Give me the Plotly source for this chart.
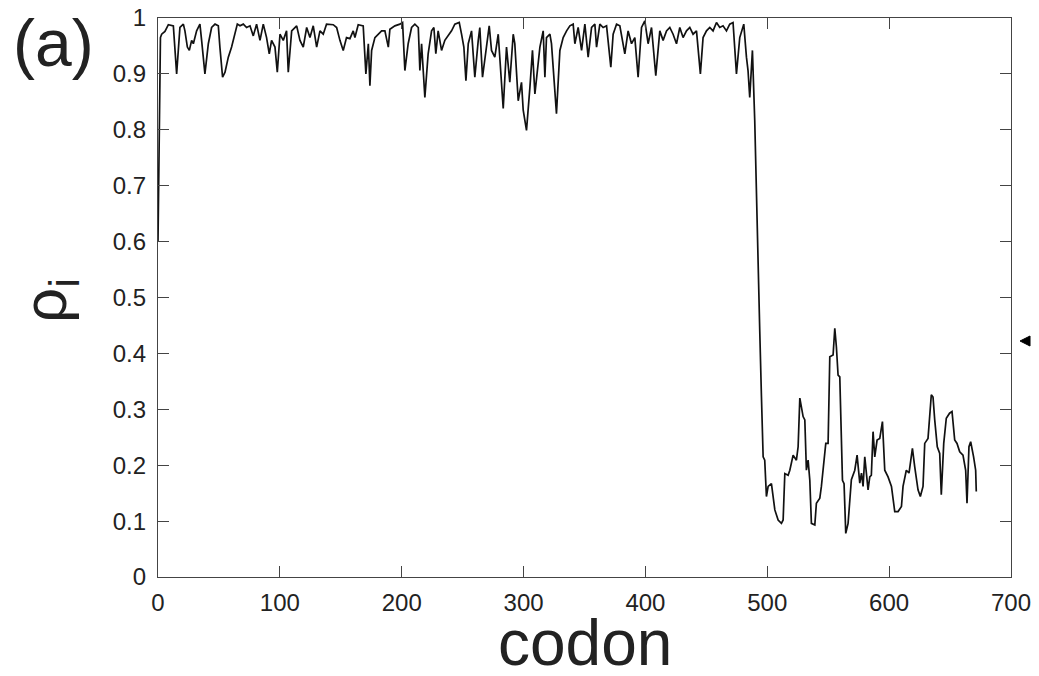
import plotly.graph_objects as go

codon = [0, 2, 3.0, 5.7, 8.5, 12.6, 15.3, 18.0, 20.8, 22.1, 24.1, 25.7, 27.6, 29.0, 31.7, 34.4, 35.8, 38.5, 41.3, 44.0, 46.8, 49.5, 50.8, 53.0, 55.0, 57.7, 60.4, 63.2, 65.1, 67.3, 70.0, 72.7, 75.5, 78.2, 80.9, 83.7, 86.4, 89.1, 91.3, 93.2, 96.0, 97.9, 100.1, 102.8, 105.5, 106.9, 109.7, 113.8, 116.5, 119.2, 122.0, 124.7, 127.4, 130.2, 132.9, 135.6, 138.3, 143.8, 146.6, 149.3, 152.0, 154.7, 157.5,
         160.2, 161.6, 164.3, 168.4, 170.6, 172.6, 173.9, 175.3, 178.0, 180.8, 183.5, 186.2, 189.0, 190.3, 194.4, 198.5, 200.7, 202.6, 205.3, 208.1, 210.8, 213.6, 214.9, 216.3, 219.0, 221.7, 224.5, 226.4, 228.0, 229.9, 232.7, 235.4, 238.1, 240.9, 243.6, 247.2, 249.1, 251.0, 252.7, 254.6, 257.3, 260.0, 262.8, 264.1, 266.3, 269.6, 271.8, 273.7, 276.4, 279.2, 281.9, 283.3, 286.0, 288.7, 291.5, 292.8, 295.6, 298.3, 299.7, 302.4, 305.2, 307.3, 309.3,
         313.4, 316.1, 317.5, 318.8, 321.6, 322.9, 324.9, 327.0, 329.8, 332.5, 335.3, 338.0, 340.7, 342.1, 344.8, 347.6, 350.3, 353.0, 355.8, 358.5, 359.9, 362.6, 365.3, 368.1, 371.6, 373.5, 376.3, 379.0, 383.1, 385.8, 388.6, 391.3, 394.0, 396.8, 399.5, 402.2, 405.0, 408.5, 411.8, 414.5, 417.3, 420.0, 422.7, 425.5, 428.2, 430.9, 433.7, 436.4, 439.1, 441.9, 445.1, 447.3, 450.1, 452.8, 455.5, 458.3, 461.0, 463.7, 466.5, 469.2, 471.9, 474.7, 477.4, 480.7, 482.9, 484.2, 485.6, 487.8, 489.7,
         492.5, 493.8, 495.2, 496.6, 497.9, 499.3, 500.7, 503.4, 506.2, 508.9, 511.6, 513.0, 514.4, 517.1, 518.5, 521.2, 523.9, 525.3, 526.7, 529.4, 530.8, 532.1, 533.5, 534.9, 536.2, 539.0, 540.3, 543.1, 544.4, 545.8, 548.0, 549.9, 551.3, 554.0, 555.4, 556.7, 558.1, 559.5, 560.3, 561.7, 563.0, 564.4, 566.3,
         567.7, 569.0, 571.8, 573.7, 575.9, 577.3, 578.6, 580.0, 582.7, 584.1, 585.4, 586.8, 588.2, 590.1, 592.3, 594.5, 596.4, 599.1, 601.9, 604.6, 607.3, 610.1, 611.4, 614.1, 616.3, 619.1, 621.0, 622.4, 623.7, 625.6, 627.8, 629.2, 631.9, 634.6, 636.0, 637.4, 639.5, 641.5, 642.8, 644.8, 646.9, 649.6, 651.6, 653.8, 655.7, 657.9, 660.6, 662.8, 663.9, 665.5, 666.9, 669.3, 671.0, 671.5]

rho = [0.60, 0.965, 0.971, 0.976, 0.988, 0.986, 0.900, 0.983, 0.989, 0.977, 0.948, 0.942, 0.960, 0.954, 0.977, 0.989, 0.960, 0.900, 0.954, 0.983, 0.989, 0.986, 0.948, 0.894, 0.903, 0.930, 0.948, 0.974, 0.989, 0.986, 0.989, 0.983, 0.986, 0.968, 0.989, 0.960, 0.989, 0.965, 0.936, 0.960, 0.948, 0.903, 0.971, 0.960, 0.977, 0.903, 0.977, 0.986, 0.960, 0.948, 0.983, 0.965, 0.986, 0.948, 0.977, 0.971, 0.989, 0.988, 0.983, 0.960, 0.942, 0.965, 0.963,
       0.977, 0.965, 0.988, 0.986, 0.900, 0.954, 0.879, 0.942, 0.965, 0.971, 0.977, 0.977, 0.948, 0.980, 0.986, 0.989, 0.992, 0.906, 0.954, 0.983, 0.989, 0.983, 0.906, 0.954, 0.858, 0.936, 0.977, 0.983, 0.936, 0.977, 0.942, 0.960, 0.968, 0.977, 0.989, 0.992, 0.971, 0.948, 0.888, 0.954, 0.977, 0.894, 0.960, 0.983, 0.894, 0.954, 0.986, 0.942, 0.930, 0.971, 0.894, 0.838, 0.948, 0.885, 0.971, 0.954, 0.852, 0.885, 0.835, 0.799, 0.876, 0.942, 0.864,
       0.948, 0.977, 0.894, 0.965, 0.971, 0.954, 0.894, 0.829, 0.942, 0.965, 0.977, 0.986, 0.989, 0.954, 0.983, 0.942, 0.989, 0.930, 0.983, 0.989, 0.948, 0.989, 0.983, 0.986, 0.912, 0.971, 0.989, 0.986, 0.936, 0.977, 0.954, 0.965, 0.894, 0.983, 0.995, 0.954, 0.983, 0.897, 0.977, 0.960, 0.977, 0.983, 0.971, 0.954, 0.983, 0.965, 0.977, 0.983, 0.971, 0.977, 0.900, 0.965, 0.977, 0.983, 0.977, 0.992, 0.983, 0.986, 0.977, 0.989, 0.992, 0.900, 0.965, 0.989, 0.930, 0.906, 0.858, 0.942, 0.817,
       0.531, 0.442, 0.323, 0.215, 0.209, 0.144, 0.162, 0.167, 0.120, 0.102, 0.096, 0.102, 0.185, 0.182, 0.191, 0.218, 0.209, 0.233, 0.320, 0.287, 0.281, 0.191, 0.209, 0.173, 0.096, 0.093, 0.132, 0.141, 0.162, 0.197, 0.239, 0.239, 0.394, 0.397, 0.445, 0.412, 0.361, 0.358, 0.293, 0.173, 0.167, 0.078, 0.096,
       0.132, 0.174, 0.191, 0.218, 0.168, 0.186, 0.162, 0.215, 0.156, 0.179, 0.182, 0.260, 0.215, 0.245, 0.248, 0.278, 0.191, 0.179, 0.162, 0.117, 0.117, 0.126, 0.162, 0.191, 0.186, 0.230, 0.197, 0.174, 0.156, 0.144, 0.162, 0.239, 0.248, 0.326, 0.322, 0.281, 0.233, 0.221, 0.147, 0.239, 0.284, 0.293, 0.296, 0.245, 0.239, 0.224, 0.218, 0.191, 0.132, 0.233, 0.242, 0.215, 0.191, 0.153]

x_ticks = [0, 100, 200, 300, 400, 500, 600, 700]
y_ticks = [0, 0.1, 0.2, 0.3, 0.4, 0.5, 0.6, 0.7, 0.8, 0.9, 1]
y_tick_text = ["0", "0.1", "0.2", "0.3", "0.4", "0.5", "0.6", "0.7", "0.8", "0.9", "1"]

FONT = "Liberation Sans, Arial, sans-serif"

fig = go.Figure()
fig.add_trace(go.Scatter(x=codon, y=rho, mode="lines",
                         line=dict(color="#111111", width=1.7), showlegend=False))

axis_common = dict(showline=True, linecolor="#444444", linewidth=1.3, mirror="ticks",
                   ticks="inside", ticklen=11, tickwidth=1.3, tickcolor="#444444",
                   showgrid=False, zeroline=False, automargin=False,
                   ticklabeloverflow="allow",
                   tickfont=dict(family=FONT, size=24, color="#222222"))

fig.update_layout(
    width=1030, height=660,
    margin=dict(l=150, r=27, t=10, b=91, autoexpand=False),
    paper_bgcolor="white", plot_bgcolor="white",
    xaxis=dict(range=[0, 700], tickvals=x_ticks, ticklabelstandoff=4, **axis_common),
    yaxis=dict(range=[0, 1], tickvals=y_ticks, ticktext=y_tick_text, ticklabelstandoff=6, **axis_common),
    annotations=[
        dict(text="codon", x=0.5006, y=-0.118, xref="paper", yref="paper",
             showarrow=False, xanchor="center", yanchor="middle",
             font=dict(family=FONT, size=64, color="#222222")),
        dict(text="ρ<sub>i</sub>", x=-0.128, y=0.495, xref="paper", yref="paper",
             showarrow=False, xanchor="center", yanchor="middle", textangle=-90,
             font=dict(family=FONT, size=62, color="#222222")),
        dict(text="(a)", x=-0.123, y=0.955, xref="paper", yref="paper",
             showarrow=False, xanchor="center", yanchor="middle",
             font=dict(family=FONT, size=66, color="#222222")),
    ],
    shapes=[
        dict(type="path", xref="paper", yref="paper",
             path="M 1.0106,0.4222 L 1.0223,0.4311 L 1.0223,0.4132 Z",
             fillcolor="black", line=dict(color="black", width=1)),
    ],
)

fig.write_html("out.html")
